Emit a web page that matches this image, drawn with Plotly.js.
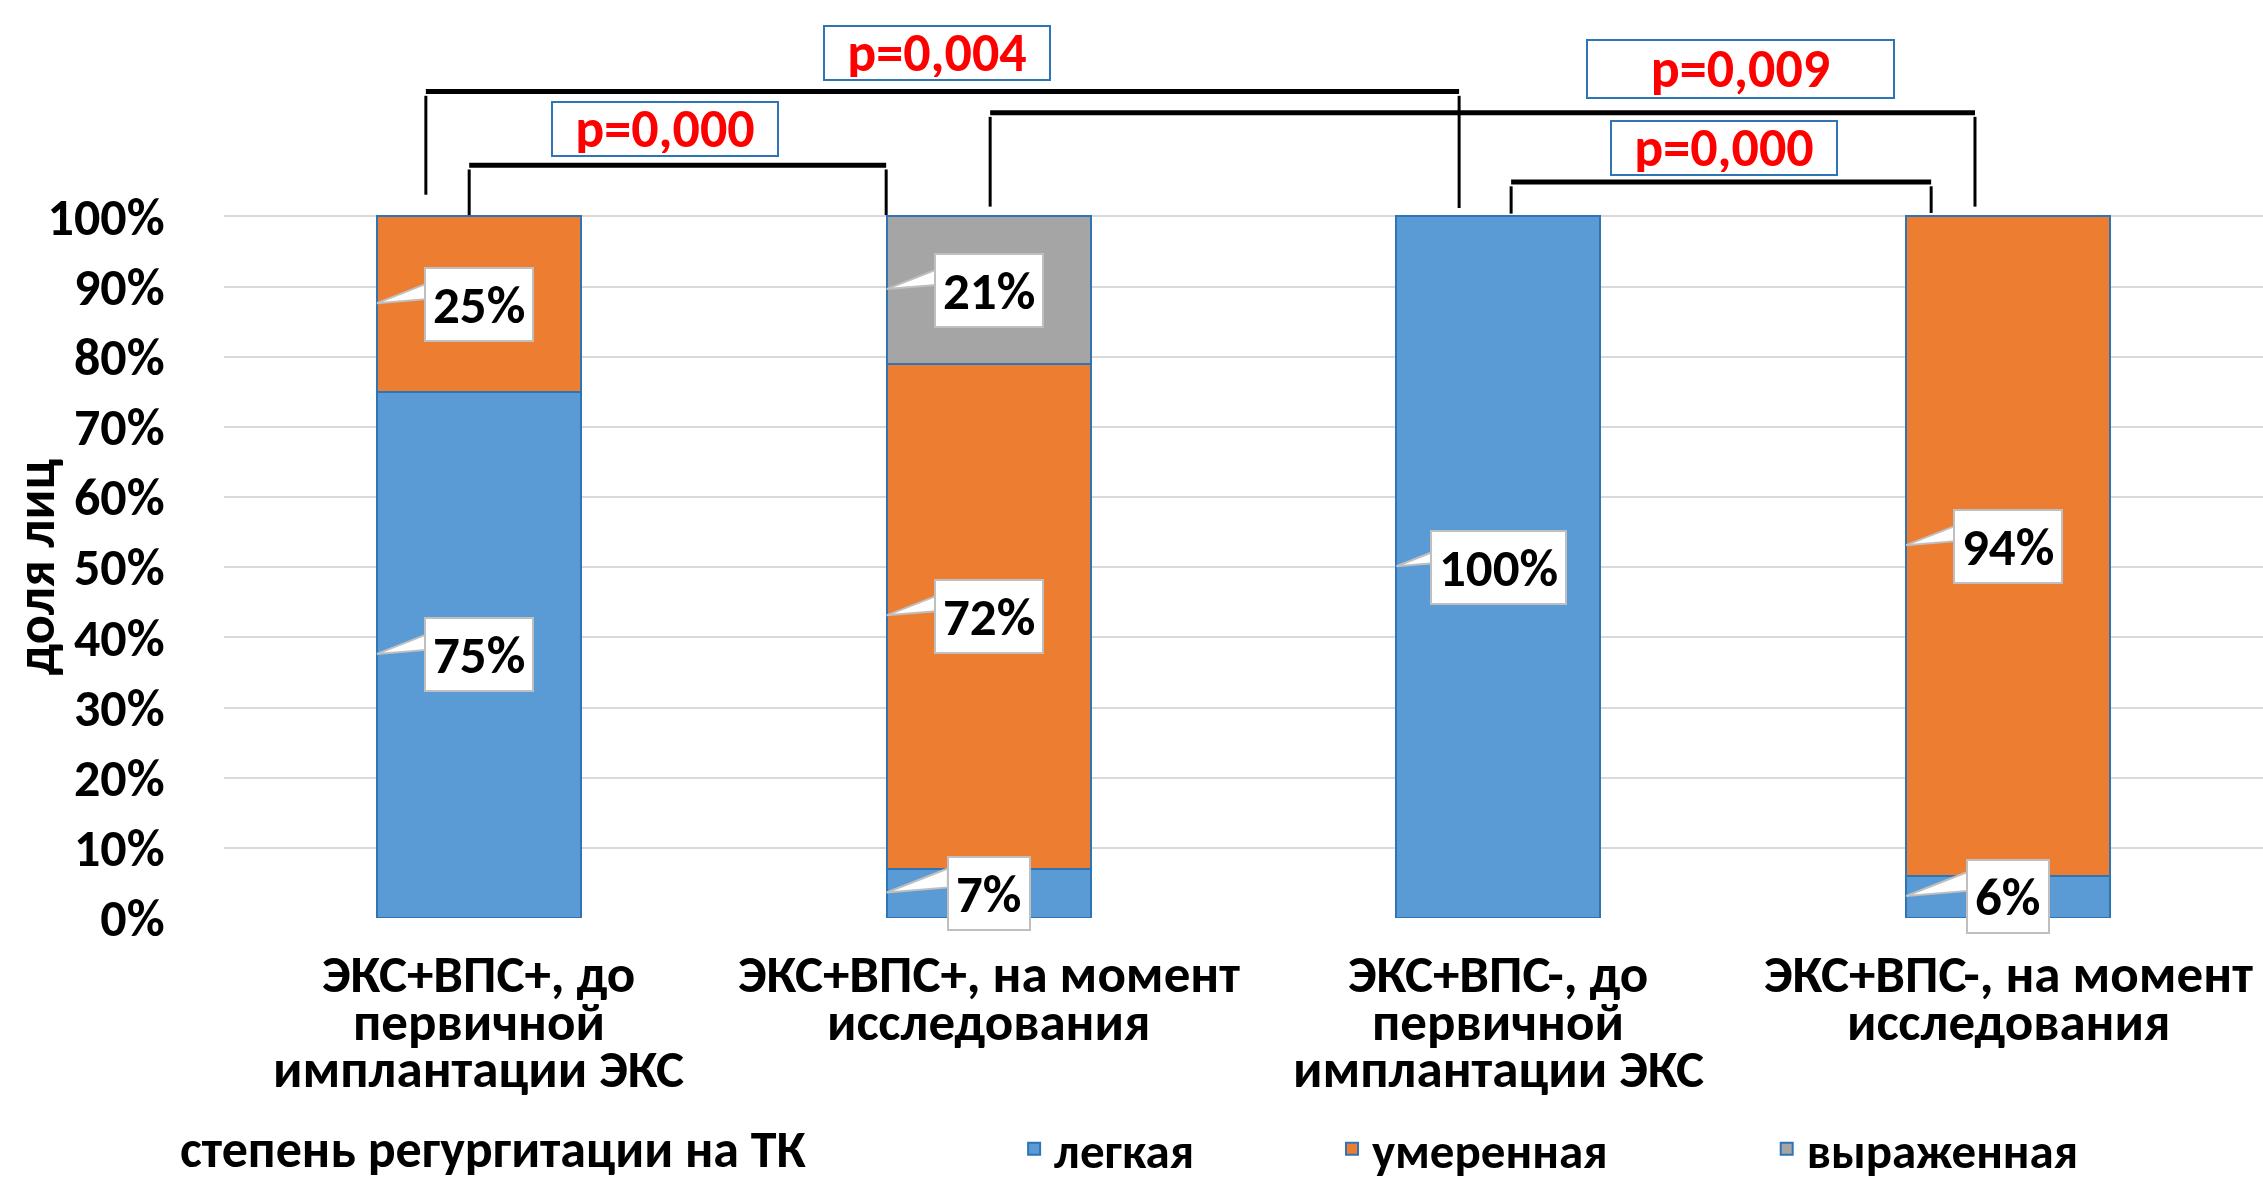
<!DOCTYPE html>
<html><head><meta charset="utf-8">
<script src="https://cdn.plot.ly/plotly-3.0.1.min.js"></script>
<style>html,body{margin:0;padding:0;background:#fff}</style>
</head><body>
<div id="chart" style="width:2263px;height:1184px"></div>
<script>
// ---- data ----
const categories = [
  "ЭКС+ВПС+, до<br>первичной<br>имплантации ЭКС",
  "ЭКС+ВПС+, на момент<br>исследования",
  "ЭКС+ВПС-, до<br>первичной<br>имплантации ЭКС",
  "ЭКС+ВПС-, на момент<br>исследования"
];
const seriesNames = ["легкая", "умеренная", "выраженная"];
const mildValues = [75, 7, 100, 6];
const moderateValues = [25, 72, 0, 94];
const severeValues = [0, 21, 0, 0];
const yTickValues = [0, 10, 20, 30, 40, 50, 60, 70, 80, 90, 100];
const yTickLabels = ["0%", "10%", "20%", "30%", "40%", "50%", "60%", "70%", "80%", "90%", "100%"];
const legendTitle = "степень регургитации на ТК";
const yTitle = "доля лиц";
// comparisons between categories (index a vs index b) and their p-values
const compA = [0, 0, 1, 2];
const compB = [2, 1, 3, 3];
const pValues = ["p=0,004", "p=0,000", "p=0,009", "p=0,000"];

// ---- style / layout ----
const FONT = "Carlito, 'Liberation Sans Narrow', 'Open Sans', sans-serif";
const BAR_W = 0.4;
const colors = ["#5b9bd5", "#ed7d31", "#a5a5a5"];
const outline = "#2e75b6";
const xIdx = categories.map((_, i) => i);
const series = [mildValues, moderateValues, severeValues];

// bracket geometry (offsets from category centre, levels in axis units)
const bracketStyle = [
  {dl: -0.104, dr: -0.077, level: 117.8, endL: 103.1, endR: 101.2, lx: 0.899, ly: 123.3, w: 220, h: 48},
  {dl: -0.019, dr: -0.201, level: 107.3, endL: 100.2, endR: 100.2, lx: 0.365, ly: 112.5, w: 220, h: 48},
  {dl: 0.003, dr: -0.065, level: 114.8, endL: 101.4, endR: 101.4, lx: 2.475, ly: 121.0, w: 301, h: 52},
  {dl: 0.025, dr: -0.151, level: 104.9, endL: 100.4, endR: 100.5, lx: 2.443, ly: 109.8, w: 220, h: 48}
];
const legendX = [0.3875, 0.5434, 0.7566];
const legendY = -0.2533;
const catLineY = [-0.0614, -0.1135, -0.1656];

const traces = series.map((vals, s) => ({
  type: "bar",
  name: seriesNames[s],
  x: xIdx,
  y: vals,
  width: BAR_W,
  marker: {color: colors[s], line: {color: outline, width: 2}},
  legend: s === 0 ? "legend" : "legend" + (s + 1),
  hoverinfo: "skip"
}));

const shapes = [];
const annotations = [];

// data-label callouts
xIdx.forEach(i => {
  let base = 0;
  series.forEach(vals => {
    const v = vals[i];
    if (v > 0) {
      const yc = base + v / 2;
      shapes.push({
        type: "path", layer: "above", xref: "x", yref: "y",
        ysizemode: "pixel", yanchor: yc,
        path: `M ${i - 0.08},25 L ${i - BAR_W / 2},1 L ${i - 0.08},6 Z`,
        fillcolor: "#ffffff", line: {color: "#bfbfbf", width: 2}
      });
      annotations.push({
        x: i, y: yc, xref: "x", yref: "y", showarrow: false,
        text: v + "%", bgcolor: "#ffffff", bordercolor: "#bfbfbf", borderwidth: 2,
        borderpad: 7, height: 57,
        font: {family: FONT, size: 53, color: "#000", weight: "bold"}
      });
    }
    base += v;
  });
});

// category labels, one annotation per line (tight line spacing as in the original)
categories.forEach((c, i) => {
  c.split("<br>").forEach((line, k) => {
    annotations.push({
      x: i, xref: "x", y: catLineY[k], yref: "paper", xanchor: "center", yanchor: "middle",
      showarrow: false, text: line,
      font: {family: FONT, size: 53, color: "#000", weight: "bold"}
    });
  });
});

// significance brackets
pValues.forEach((p, k) => {
  const b = bracketStyle[k];
  const xl = compA[k] + b.dl, xr = compB[k] + b.dr;
  shapes.push({type: "line", xref: "x", yref: "y", x0: xl, x1: xr, y0: b.level, y1: b.level, line: {color: "#000", width: 5}});
  shapes.push({type: "line", xref: "x", yref: "y", x0: xl, x1: xl, y0: b.level - 0.6, y1: b.endL, line: {color: "#000", width: 3}});
  shapes.push({type: "line", xref: "x", yref: "y", x0: xr, x1: xr, y0: b.level - 0.6, y1: b.endR, line: {color: "#000", width: 3}});
  annotations.push({
    x: b.lx, y: b.ly, xref: "x", yref: "y", showarrow: false, text: p,
    width: b.w, height: b.h, borderpad: 2,
    bgcolor: "#ffffff", bordercolor: outline, borderwidth: 2,
    font: {family: FONT, size: 54, color: "#ff0000", weight: "bold"}
  });
});

// y-axis title
annotations.push({
  xref: "paper", yref: "y", x: 0, y: 50, xshift: -188, xanchor: "center", yanchor: "middle",
  showarrow: false, text: yTitle, textangle: -90,
  font: {family: FONT, size: 54, color: "#000", weight: "bold"}
});
// legend title
annotations.push({
  xref: "paper", yref: "paper", x: 0.1317, y: legendY, xanchor: "center", yanchor: "middle",
  showarrow: false, text: legendTitle,
  font: {family: FONT, size: 52, color: "#000", weight: "bold"}
});

const legendBase = {
  orientation: "h", xanchor: "left", yanchor: "middle", y: legendY,
  bgcolor: "rgba(0,0,0,0)",
  font: {family: FONT, size: 49, color: "#000", weight: "bold"}
};

const layout = {
  width: 2263, height: 1184,
  margin: {l: 224, r: 0, t: 6, b: 266, autoexpand: false},
  paper_bgcolor: "#fff", plot_bgcolor: "#fff",
  barmode: "stack",
  showlegend: true,
  legend: Object.assign({}, legendBase, {x: legendX[0]}),
  legend2: Object.assign({}, legendBase, {x: legendX[1]}),
  legend3: Object.assign({}, legendBase, {x: legendX[2]}),
  xaxis: {
    type: "linear", range: [-0.5, 3.5],
    tickvals: xIdx, showticklabels: false,
    showgrid: false, zeroline: false, showline: false, ticks: ""
  },
  yaxis: {
    range: [0, 130], tickvals: yTickValues, ticktext: yTickLabels,
    showgrid: true, gridcolor: "#d9d9d9", gridwidth: 2,
    zeroline: false, showline: false,
    ticks: "outside", ticklen: 48, tickcolor: "rgba(0,0,0,0)",
    tickfont: {family: FONT, size: 52, color: "#000", weight: "bold"}
  },
  shapes: shapes,
  annotations: annotations
};

Plotly.newPlot("chart", traces, layout, {displayModeBar: false, staticPlot: true});
</script>
</body></html>
